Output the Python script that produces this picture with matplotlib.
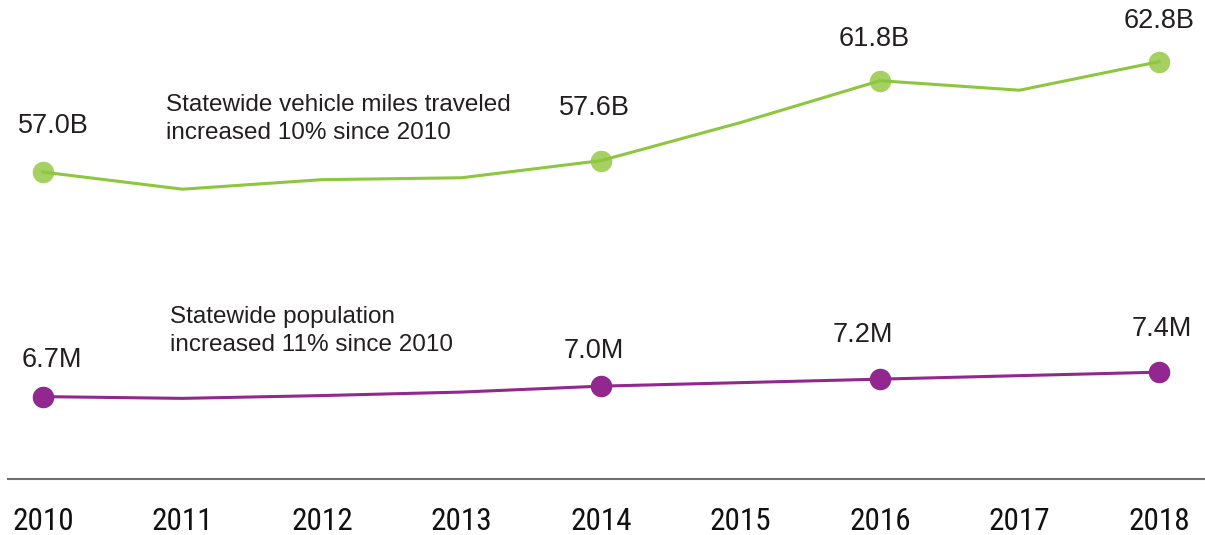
import matplotlib
matplotlib.use("Agg")
import matplotlib.pyplot as plt

# ---------------- data ----------------
years = [2010, 2011, 2012, 2013, 2014, 2015, 2016, 2017, 2018]
tick_labels = ["2010", "2011", "2012", "2013", "2014", "2015", "2016", "2017", "2018"]
vmt_billions = [57.0, 56.1, 56.6, 56.7, 57.6, 59.6, 61.8, 61.3, 62.8]
population_millions = [6.70, 6.65, 6.73, 6.83, 7.00, 7.10, 7.20, 7.30, 7.40]
labeled_years = [2010, 2014, 2016, 2018]
vmt_labels = ["57.0B", "57.6B", "61.8B", "62.8B"]
pop_labels = ["6.7M", "7.0M", "7.2M", "7.4M"]
vmt_note = "Statewide vehicle miles traveled\nincreased 10% since 2010"
pop_note = "Statewide population\nincreased 11% since 2010"

# ---------------- style ----------------
GREEN_LINE = "#8dc63f"
GREEN_DOT = "#a6d162"
PURPLE = "#92278f"
TEXT = "#231f20"
AXIS = "#6d6e71"
TEXT_FONT = ["Liberation Sans", "DejaVu Sans"]
TICK_FONT = ["Roboto Condensed", "DejaVu Sans Condensed", "Liberation Sans"]

W, H = 1205, 535
fig = plt.figure(figsize=(W / 100, H / 100), dpi=100)
ax = fig.add_axes([0, 0, 1, 1])
ax2 = ax.twinx()

ax.set_xlim(2009.692, 2018.330)
ax.set_ylim(37.93, 66.04)
ax2.set_ylim(2.74, 18.05)

for a in (ax, ax2):
    for s in a.spines.values():
        s.set_visible(False)
    a.set_yticks([])
    a.patch.set_visible(False)

ax.spines["bottom"].set_visible(True)
ax.spines["bottom"].set_position(("axes", 1 - 479 / H))
ax.spines["bottom"].set_bounds(2009.75, 2018.330)
ax.spines["bottom"].set_color(AXIS)
ax.spines["bottom"].set_linewidth(1.5)

ax.set_xticks(years, tick_labels)
ax.tick_params(axis="x", length=0, pad=20, labelsize=22.5, labelcolor="#111111")
for lbl in ax.get_xticklabels():
    lbl.set_fontfamily(TICK_FONT)
    lbl.set_fontstretch("condensed")

# ---------------- series ----------------
lab_idx = [years.index(y) for y in labeled_years]

# vehicle miles traveled (green): dots under the line
ax.plot([years[i] for i in lab_idx], [vmt_billions[i] for i in lab_idx],
        linestyle="none", marker="o", markersize=14.5, color=GREEN_DOT, zorder=2)
ax.plot(years, vmt_billions, color=GREEN_LINE, linewidth=2.2, zorder=3,
        solid_joinstyle="miter")

# population (purple)
ax2.plot(years, population_millions, color=PURPLE, linewidth=2.2,
         marker="o", markersize=14.5, markevery=lab_idx, zorder=3)

# value labels (offsets in pixels)
vmt_offsets = [(10, 39), (-7, 46), (-6, 35), (0, 34)]
pop_offsets = [(9, 30), (-7, 28), (-17, 37), (3, 36)]
for i, txt, off in zip(lab_idx, vmt_labels, vmt_offsets):
    ax.annotate(txt, (years[i], vmt_billions[i]), xytext=off,
                textcoords="offset pixels", ha="center", va="baseline",
                fontsize=19.5, color=TEXT, family=TEXT_FONT)
for i, txt, off in zip(lab_idx, pop_labels, pop_offsets):
    ax2.annotate(txt, (years[i], population_millions[i]), xytext=off,
                 textcoords="offset pixels", ha="center", va="baseline",
                 fontsize=19.5, color=TEXT, family=TEXT_FONT)

# notes
fig.text(166 / W, 1 - 119 / H, vmt_note, ha="left", va="center",
         fontsize=17.5, color=TEXT, family=TEXT_FONT, linespacing=1.3)
fig.text(170 / W, 1 - 331 / H, pop_note, ha="left", va="center",
         fontsize=17.5, color=TEXT, family=TEXT_FONT, linespacing=1.3)

fig.savefig("out.png", dpi=100)
